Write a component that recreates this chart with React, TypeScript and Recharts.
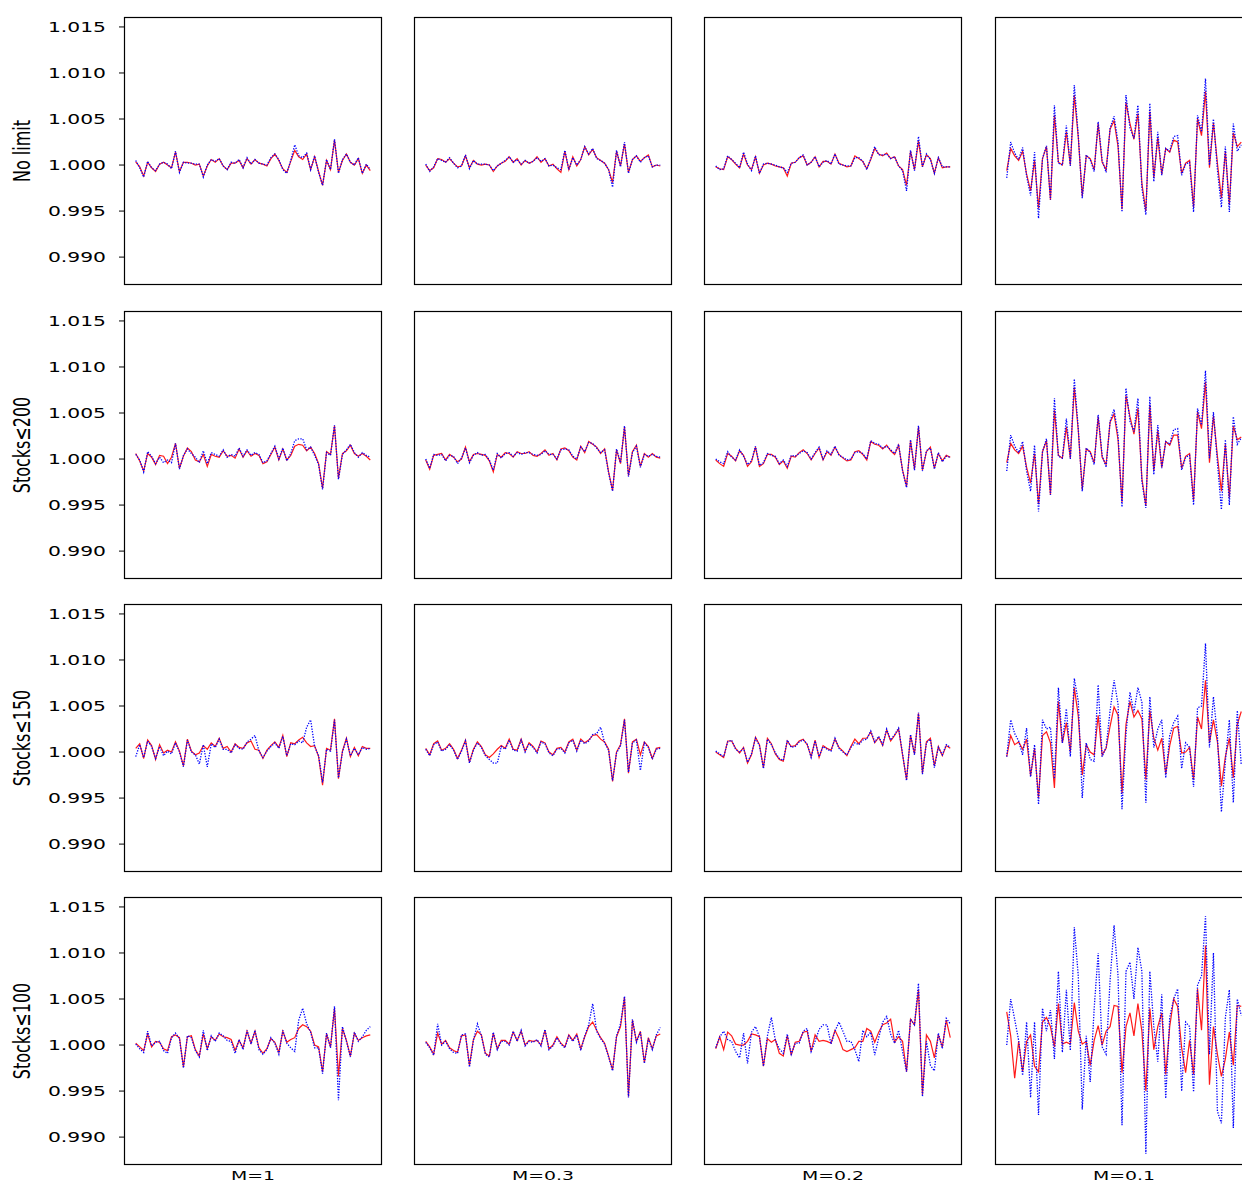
import React from 'react';
import { LineChart, Line, XAxis, YAxis } from 'recharts';

// every series holds offsets from 1.000 in thousandths (0.5 means 1.0005), 60 steps each
const rowLabels = ['No limit', 'Stocks≤200', 'Stocks≤150', 'Stocks≤100'];
const colLabels = ['M=1', 'M=0.3', 'M=0.2', 'M=0.1'];
const yTicks = [0.99, 0.995, 1.0, 1.005, 1.01, 1.015];

const r1c1Red = [0.35,-0.2,-1.2,0.3,-0.3,-0.7,0.1,0.3,0,-0.3, 1.4,-0.7,0.3,0.3,0.2,0,0.1,-1.2,-0.1,0.6, 0.3,0.7,-0.1,-0.5,0.2,0.2,0.5,-0.3,0.7,0.1, 0.6,0.2,0.1,-0.1,0.7,1.2,0.5,-0.4,-0.8,0.4, 1.6,0.9,0.6,1.2,-0.5,0.9,-0.7,-2.2,0.5,-0.5, 2.7,-0.8,0.5,1.2,0.3,0,0.7,-0.9,0,-0.6];
const r1c1Blue = [0.5,-0.3,-1.3,0.4,-0.3,-0.6,0.1,0.3,0.1,-0.4, 1.5,-0.8,0.3,0.2,0.2,0.1,0.1,-1.3,0,0.6, 0.4,0.7,-0.1,-0.5,0.3,0.2,0.6,-0.3,0.8,0.1, 0.6,0.2,0.1,0,0.8,1.2,0.6,-0.5,-0.9,0.5, 2.2,1.0,0.8,1.3,-0.5,1.0,-0.8,-2.2,0.6,-0.5, 2.8,-0.9,0.6,1.2,0.3,0,0.8,-0.9,0.1,-0.5];
const r1c2Red = [0,-0.6,-0.3,0.7,0.6,0.3,0.7,0.2,-0.2,-0.1, 1.0,-0.3,0.5,0.1,0,0.1,0,-0.7,-0.1,0.2, 0.4,0.9,0.3,0.7,0,0.5,0.2,0.4,0.9,0.3, 0.7,-0.1,0.1,-0.4,-0.8,1.5,-0.5,0.9,-0.1,0.6, 2.0,1.1,1.7,0.8,0.5,0.2,-0.5,-1.9,1.5,-0.1, 2.3,-0.8,0.6,1.0,0.4,0.8,1.1,-0.2,0,-0.1];
const r1c2Blue = [0.1,-0.7,-0.2,0.7,0.5,0.3,0.8,0.2,-0.3,-0.1, 1.1,-0.4,0.5,0.1,0.1,0.1,0,-0.6,-0.1,0.2, 0.5,0.9,0.3,0.6,0.1,0.5,0.2,0.4,0.8,0.4, 0.7,-0.1,0,-0.3,-0.5,1.6,-0.5,0.8,0,0.6, 2.0,1.2,1.8,0.7,0.5,0.2,-0.5,-2.4,1.6,-0.2, 2.5,-0.9,0.6,1.0,0.3,0.8,1.0,-0.2,0,0];
const r1c3Red = [-0.2,-0.4,-0.5,0.9,0.6,0.1,-0.3,1.2,0,-0.5, 0.9,-0.9,0,0.2,0.1,-0.1,-0.2,-0.3,-1.2,0.2, 0.3,0.8,1.0,0,0.3,0.9,-0.2,0.4,0.4,0.1, 1.2,0.2,0,-0.2,-0.1,1.0,0.7,0.4,-0.4,0.6, 1.8,1.2,1.0,1.3,0.7,0.9,-0.1,-0.5,-2.2,1.5, -0.5,2.6,-0.2,1.1,0.7,-0.9,0.8,-0.3,-0.2,-0.2];
const r1c3Blue = [-0.1,-0.5,-0.4,1.0,0.6,0.2,-0.3,1.4,0.1,-0.6, 1.0,-0.9,0.1,0.2,0.1,0,-0.2,-0.3,-0.8,0.2, 0.3,0.8,1.1,0,0.3,0.9,-0.2,0.3,0.5,0.1, 1.2,0.1,0,-0.1,-0.1,0.8,0.8,0.4,-0.5,0.7, 2.0,1.1,1.1,1.2,0.7,0.9,-0.1,-0.6,-2.8,1.6, -0.6,3.1,-0.2,1.2,0.6,-0.9,0.8,-0.2,-0.2,-0.2];
const r1c4Red = [-0.6,1.8,1.0,0.5,1.5,-1.0,-2.8,0.5,-4.7,0.7, 2.0,-3.8,5.4,0.3,0,3.6,0,7.6,3.0,-3.4, 1.0,0.7,-0.5,4.5,0.3,-0.5,3.9,4.8,2.0,-4.8, 6.8,4.5,2.8,5.6,-2.0,-5.0,5.8,-1.4,3.0,-1.0, 1.8,1.4,2.7,2.5,-0.9,0.2,0.5,-4.6,5.0,3.2, 8.0,-0.3,4.6,0.2,-3.6,1.5,-4.3,3.5,2.0,2.5];
const r1c4Blue = [-1.4,2.5,1.3,0.6,1.9,-1.2,-3.3,1.4,-5.8,0.7, 2.1,-3.8,6.5,0.2,0,4.3,-0.1,8.7,3.2,-3.6, 1.1,0.6,-0.7,4.7,0.5,-0.8,4.0,5.3,2.5,-5.1, 7.6,4.0,2.9,6.5,-2.5,-5.4,6.7,-1.8,3.6,-1.1, 1.8,1.5,3.1,3.2,-1.1,0.1,0.3,-5.1,5.4,3.6, 9.4,0,5.0,-0.5,-4.6,2.0,-5.1,4.5,1.5,2.2];

const r2c1Red = [0.6,-0.2,-1.3,0.6,0.2,-0.6,0.4,0.3,-0.5,0.2, 1.7,-1.0,0.3,1.2,0.8,-0.1,-0.3,0.5,-0.8,0.5, 0.3,0.2,0.9,0.3,0.4,0.1,1.1,0.2,0.9,0.3, 0.6,0.4,-0.5,-0.3,0.5,1.3,-0.1,1.1,-0.1,0.4, 1.4,1.6,1.5,0.9,1.3,0.6,-0.5,-3.2,0.8,0.5, 3.6,-2.1,0.6,0.9,1.5,0.6,0.3,0.6,0.3,-0.1];
const r2c1Blue = [0.5,-0.1,-1.4,0.8,0.3,-0.5,0.2,-0.4,-0.1,-0.4, 1.7,-1.1,0.4,1.1,0.6,0.2,-0.4,0.9,-0.5,0.7, 0.5,0.3,1.0,0.2,0.5,0.3,1.2,0.3,1.0,0.4, 0.7,0.5,-0.4,-0.2,0.6,1.4,0,1.2,-0.2,0.6, 2.0,2.2,2.2,1.0,1.3,0.4,-0.6,-3.3,0.7,0.4, 3.7,-2.2,0.5,1.0,1.6,0.7,0.2,0.7,0.4,0.2];
const r2c2Red = [-0.1,-1.1,0.4,0.5,0.6,-0.1,0.5,0.2,-0.3,0, 1.3,-0.3,0.5,0.6,0.5,0.4,-0.2,-1.4,0.5,0.2, 0.7,0.6,0.2,0.8,0.6,0.6,0.8,0.4,0.3,0.6, 1.0,0.4,0.6,-0.1,1.1,1.2,0.9,0.2,-0.1,1.4, 0.7,1.9,1.6,1.3,0.6,1.1,-1.4,-3.4,1.0,-0.5, 3.5,-1.8,0.8,1.5,-0.8,0.6,0.2,0.6,0.2,0.1];
const r2c2Blue = [0,-1.0,0.5,0.4,0.5,-0.2,0.4,0.3,-0.5,0.1, 1.2,-0.4,0.4,0.7,0.4,0.5,-0.1,-1.2,0.6,0.1, 0.6,0.7,0.3,0.7,0.5,0.7,0.7,0.5,0.4,0.5, 0.9,0.5,0.5,0,1.0,1.1,1.0,0.3,0,1.3, 0.8,1.8,1.7,1.2,0.7,1.0,-1.5,-3.5,1.1,-0.4, 3.6,-1.9,0.7,1.4,-0.9,0.5,0.3,0.5,0.3,0.2];
const r2c3Red = [-0.1,-0.5,-0.8,0.6,0.3,-0.2,0.9,0.4,-0.8,-0.3, 1.3,-0.8,-0.5,0.5,0.5,0.2,-0.6,-0.2,-1.0,0.3, 0.2,0.7,1.0,0.6,-0.1,0.6,1.2,-0.1,0.8,0.4, 1.3,0.5,0.1,-0.2,-0.1,0.8,0.9,0.5,-0.1,1.9, 1.6,1.5,1.1,1.5,0.9,0.5,1.5,-1.2,-3.0,2.0, -1.1,3.5,-1.2,0.8,1.3,-1.0,0.6,-0.2,0.4,0.2];
const r2c3Blue = [0,-0.3,-0.5,0.8,0.2,-0.1,1.0,0.3,-0.6,-0.2, 1.4,-0.7,-0.4,0.6,0.4,0.3,-0.5,-0.1,-0.8,0.4, 0.3,0.6,0.9,0.7,0,0.7,1.3,0,0.9,0.5, 1.4,0.4,0.2,-0.1,0,0.7,0.8,0.6,0,2.0, 1.7,1.6,1.2,1.4,1.0,0.6,1.6,-1.3,-3.1,2.1, -1.2,3.6,-1.3,0.9,1.2,-1.1,0.7,-0.3,0.3,0.2];
const r2c4Red = [-0.4,1.7,1.0,0.6,1.4,-0.9,-2.6,0.6,-4.9,0.8, 2.0,-3.9,5.3,0.4,0.1,3.5,0.1,7.8,3.1,-3.3, 1.1,0.8,-0.4,4.6,0.2,-0.6,4.0,4.9,2.1,-4.7, 6.9,4.6,2.7,5.5,-2.1,-5.1,5.9,-1.3,3.1,-0.9, 1.9,1.5,2.6,2.6,-1.0,0.3,0.6,-4.5,5.1,3.3, 8.4,-0.4,4.7,0.3,-3.5,1.6,-4.2,3.6,2.1,2.4];
const r2c4Blue = [-1.3,2.6,1.4,0.7,1.9,-1.3,-3.5,1.5,-5.7,0.8, 2.2,-3.9,6.6,0.3,0.1,4.4,0,8.7,3.3,-3.5, 1.2,0.7,-0.6,4.8,0.4,-0.9,4.1,5.4,2.6,-5.2, 7.7,4.1,3.0,6.6,-2.4,-5.3,6.8,-1.7,3.7,-1.0, 1.9,1.6,3.2,3.3,-1.2,0.2,0.4,-5.0,5.5,3.7, 9.6,0.1,5.1,-0.4,-5.5,2.1,-5.0,4.6,1.6,2.3];

const r3c1Red = [0.4,0.9,-0.7,1.3,0.7,-0.8,0.8,-0.1,0.2,0, 1.1,0.1,-1.5,1.4,0.1,-0.3,-0.1,0.7,0.3,1.0, 0.6,1.5,0.4,0.6,0,0.9,0.5,0.4,1.0,1.2, 0.3,0.2,-0.7,0.2,0.7,1.1,0.5,1.8,-0.5,1.0, 0.9,1.3,1.6,1.0,0.6,0.7,-0.5,-3.6,0.4,0.2, 3.6,-2.9,0.1,1.5,-0.5,0.5,-0.4,0.6,0.4,0.4];
const r3c1Blue = [-0.5,0.8,-0.6,1.2,0.6,-0.7,0.6,-0.4,0.1,-0.2, 1.0,0,-1.6,1.3,0,-0.3,-1.3,0.8,-1.6,0.9, 0.5,1.4,0.3,0.3,-0.1,0.8,0.4,0.3,1.1,1.4, 1.8,0.1,-0.6,0.1,0.6,1.0,0.4,1.7,-0.4,0.9, 0.8,1.2,1.0,2.7,3.5,0.6,-0.4,-3.3,0.3,0.1, 3.5,-2.8,0,1.4,-0.4,0.4,-0.3,0.5,0.3,0.4];
const r3c2Red = [0.4,-0.3,0.9,1.2,0.2,0.4,0.9,0.3,-0.7,0.2, 1.3,-1.1,0.3,1.1,0.6,-0.3,-0.6,-0.2,0.3,0.7, 0.4,1.4,0.3,0.2,1.4,0.1,1.0,0.6,0,1.2, 1.0,0,-0.3,0.4,0.5,0,1.1,1.4,0.2,1.4, 1.0,1.3,1.8,1.9,1.4,1.1,0.3,-3.2,0,0.8, 3.6,-2.3,1.1,1.4,-0.3,1.1,0.6,-0.7,0.4,0.5];
const r3c2Blue = [0.3,-0.4,0.8,1.1,0.1,0.3,0.8,0.2,-0.8,0.1, 1.2,-1.2,0.2,1.0,0.5,-0.4,-0.8,-1.2,-1.2,0.6, 0.3,1.3,0.2,0.1,1.3,0,0.9,0.5,-0.1,1.1, 0.9,-0.1,-0.4,0.3,0.4,-0.1,1.0,1.3,0.1,1.3, 0.9,1.2,1.9,2.0,2.7,1.0,0.2,-3.1,-0.1,0.7, 3.5,-2.2,1.0,1.3,-2.0,1.0,0.5,-0.8,0.3,0.4];
const r3c3Red = [0,-0.3,-0.6,1.2,1.2,0.4,-0.1,0.5,-1.2,-0.3, 1.6,0.8,-1.7,1.5,0.9,-0.2,-0.8,-1.0,1.2,0.6, 0.7,1.2,1.4,0.8,-0.5,1.3,-0.6,0.7,0.4,0.2, 1.4,0.5,0.1,-0.4,0.6,1.4,0.9,1.5,1.5,2.2, 1.0,1.6,0.7,2.4,1.2,1.8,2.5,-0.3,-3.0,1.8, -0.2,4.2,-2.3,1.1,1.5,-1.5,0.6,-0.4,0.7,0.4];
const r3c3Blue = [0.1,-0.2,-0.5,1.1,1.3,0.3,0,0.4,-1.1,-0.2, 1.5,0.7,-1.8,1.4,0.8,-0.1,-0.7,-0.9,1.3,0.5, 0.6,1.1,1.3,0.9,-0.6,1.2,-0.5,0.6,0.3,0.1, 1.5,0.4,0,-0.3,0.5,1.0,0.8,1.3,1.4,2.3, 1.1,1.7,0.8,2.5,1.3,1.9,2.6,-0.2,-3.1,1.9, -0.3,4.3,-2.4,1.0,1.4,-1.7,0.5,-0.3,0.8,0.5];
const r3c4Red = [-0.5,1.8,0.8,1.1,0.3,1.4,-2.6,0.4,-5.0,1.8, 2.2,1.0,-3.9,5.5,1.0,3.2,0,7.0,3.9,-2.5, 0.8,0,-0.3,4.0,-0.3,0.4,2.8,4.9,4.0,-4.5, 3.0,5.5,3.8,4.5,3.6,-3.0,4.5,1.5,0.2,1.5, -2.4,0.7,2.6,2.8,-0.1,0,0.5,-3.0,3.8,2.5, 7.8,1.0,3.5,1.1,-3.7,-0.5,1.5,-2.8,3.0,4.4];
const r3c4Blue = [-0.5,3.5,2.0,1.2,-0.3,2.6,-2.7,0.8,-5.7,3.5, 2.5,2.7,-2.9,7.0,1.0,4.7,-0.5,8.0,5.5,-5.0, 1.0,-0.8,-1.0,7.3,-0.5,0.5,4.5,7.8,5.2,-6.2, 2.0,6.5,4.3,7.0,5.4,-5.5,6.0,0.5,2.5,3.5, -2.8,1.8,3.2,3.9,-1.8,1.0,0.5,-3.8,4.8,5.0, 11.8,0.5,6.0,1.7,-6.5,-1.0,3.5,-5.5,4.5,-1.4];

const r4c1Red = [0.2,-0.2,-0.6,1.2,-0.2,0.4,0.3,-0.4,-0.6,0.9, 1.1,0.8,-2.4,0.9,1.0,-0.5,-1.2,1.2,-0.4,0.9, 0.5,1.2,0.9,0.8,0.6,-0.6,0.5,-0.3,1.5,0.2, 1.5,-0.3,-0.9,-0.4,0.7,0.3,-0.8,1.5,0.3,0.6, 0.8,1.8,2.2,2.0,1.5,0,-0.2,-2.9,1.2,-0.2, 4.0,-3.4,1.8,0.5,-1.2,1.3,0.5,0.8,1.0,1.1];
const r4c1Blue = [0.1,-0.4,-0.8,1.5,-0.1,0.3,0.4,-0.6,-0.9,0.8, 1.3,0.7,-2.5,1.0,0.8,-0.6,-1.3,1.6,-0.6,1.0, 0.4,1.3,1.0,0.5,0.4,-0.9,0.6,-0.5,1.6,0.1, 1.6,-0.5,-1.0,-0.5,0.8,0.2,-1.0,1.6,0.2,-0.3, -0.7,2.7,4.0,2.3,1.4,-0.3,-0.3,-3.1,1.3,-0.3, 4.2,-6.0,2.0,0.4,-1.3,1.4,0.4,0.9,1.6,2.0];
const r4c2Red = [0.4,-0.2,-1.0,1.3,0.1,0.5,-0.3,-0.6,-0.8,1.0, 1.1,-2.2,0.6,1.5,1.1,-0.9,-1.2,1.3,-0.4,0.5, 0.5,0.1,1.4,0.5,1.5,0,0.5,0.4,0.5,0, 1.6,-0.4,0,0.9,0.2,-0.2,1.1,0.5,1.2,-0.4, 0.9,2.0,2.5,1.6,0.8,0.2,-1.2,-2.7,0.9,2.0, 5.2,-5.6,2.7,0.4,1.5,-1.9,0.8,-0.4,1.0,1.2];
const r4c2Blue = [0.3,-0.3,-1.1,2.3,0,0.4,-0.4,-0.8,-0.9,1.1, 1.2,-2.4,0.5,2.3,1.0,-1.0,-1.3,1.4,-0.5,0.4, 0.4,0,1.5,0.4,1.6,-0.1,0.4,0.3,0.6,-0.1, 1.7,-0.5,-0.1,0.8,0.1,-0.3,1.0,0.4,1.1,-0.6, 1.0,2.2,4.5,1.5,0.7,0.1,-1.3,-2.8,1.0,2.3, 5.3,-5.7,2.8,0.3,1.4,-2.0,0.7,-0.5,1.1,1.9];
const r4c3Red = [-0.4,0.9,-0.5,1.4,1.0,0.1,0,0,0.4,1.2, 1.1,0.9,-2.3,0.7,0.3,0.6,-0.9,-1.2,1.0,-1.1, 0.3,0.4,1.4,1.5,-0.7,1.1,0.4,0.5,0.4,0.2, 1.6,0.7,-0.5,-0.7,-0.5,-0.3,0.4,0.4,1.8,1.5, 0.3,1.4,2.2,2.4,2.8,0.3,0.9,0.4,-2.9,2.8, 2.2,6.0,-5.4,1.1,0.4,-1.4,1.1,-0.2,2.7,0.8];
const r4c3Blue = [-0.3,0.9,1.5,0.6,0.4,-0.7,-1.4,1.3,-2.0,1.4, 2.0,0.9,-2.3,1.0,3.0,0.5,-0.4,-0.9,1.2,-1.0, 0.2,0.2,1.5,1.8,-0.7,0.4,1.7,2.2,2.2,0.1, 1.5,2.5,1.5,0.4,0.4,-0.5,-1.8,1.6,0.9,1.4, -1.1,0.8,2.5,3.1,1.2,0.2,1.6,-0.7,-2.9,2.8, 2.2,6.7,-5.6,0.4,-2.2,-2.8,1.3,-0.4,2.9,2.3];
const r4c4Red = [3.6,1.0,-3.6,0.4,-2.9,0.4,1.1,-2.3,-2.9,2.5, 3.0,2.0,-0.2,4.5,0.1,0.3,0.1,4.6,1.5,0.1, 0.4,-2.2,0.5,2.1,0,1.5,2.0,4.3,4.2,-3.0, 2.0,3.5,1.0,4.5,1.5,-5.0,4.0,-0.5,2.0,3.5, -3.2,2.0,5.0,4.2,-0.3,-3.0,0.5,-3.2,6.1,1.6, 10.8,-4.3,2.0,-1.0,-3.4,-1.5,1.4,-2.2,4.3,4.2];
const r4c4Blue = [0,5.0,2.8,0.5,-3.3,2.5,-5.7,2.5,-7.6,4.0, 1.5,3.8,-1.5,8.0,-0.8,6.0,-0.6,12.8,7.5,-7.0, 1.0,-4.0,4.0,10.0,-0.2,-1.0,7.0,13.0,7.5,-8.7, 8.0,9.0,5.0,10.6,8.0,-11.8,8.0,2.0,-1.8,5.5, -5.8,3.0,5.0,6.1,-5.0,2.5,2.0,-5.1,6.5,7.5, 14.0,-1.0,10.0,-7.2,-8.5,3.0,6.0,-9.0,5.0,3.2];

const grid = [
  [[r1c1Red, r1c1Blue], [r1c2Red, r1c2Blue], [r1c3Red, r1c3Blue], [r1c4Red, r1c4Blue]],
  [[r2c1Red, r2c1Blue], [r2c2Red, r2c2Blue], [r2c3Red, r2c3Blue], [r2c4Red, r2c4Blue]],
  [[r3c1Red, r3c1Blue], [r3c2Red, r3c2Blue], [r3c3Red, r3c3Blue], [r3c4Red, r3c4Blue]],
  [[r4c1Red, r4c1Blue], [r4c2Red, r4c2Blue], [r4c3Red, r4c3Blue], [r4c4Red, r4c4Blue]],
];

const colX = [124, 414, 704, 995];
const rowY = [17, 311, 604, 897];
const PW = 258;
const PH = 268;
const AXW = 90;
const Y_DOMAIN: [number, number] = [0.98697, 1.01608];
const FONT = '"DejaVu Sans", sans-serif';
const STRETCH = 1.45; // the figure is stretched sideways

const YTick = (props: any) => {
  const { x, y, payload } = props;
  return (
    <text
      transform={`translate(${x},${y}) scale(${STRETCH},1)`}
      textAnchor="end"
      dominantBaseline="central"
      fontFamily={FONT}
      fontSize={14}
      fill="#000"
    >
      {payload.value.toFixed(3)}
    </text>
  );
};

const Panel = ({ red, blue, row, col }: { red: number[]; blue: number[]; row: number; col: number }) => {
  const n = red.length - 1;
  const data = red.map((d, i) => ({ t: i, red: 1 + d / 1000, blue: 1 + blue[i] / 1000 }));
  const first = col === 0;
  const extra = first ? AXW : 0;
  return (
    <div style={{ position: 'absolute', left: colX[col] - extra, top: rowY[row] }}>
      <LineChart width={PW + extra} height={PH} data={data} margin={{ top: 0, right: 0, bottom: 0, left: 0 }}>
        <XAxis dataKey="t" type="number" domain={[-0.05 * n, 1.05 * n]} hide allowDataOverflow />
        <YAxis
          type="number"
          domain={Y_DOMAIN}
          ticks={yTicks}
          interval={0}
          allowDataOverflow
          hide={!first}
          width={AXW}
          axisLine={false}
          tickLine={{ stroke: '#000' }}
          tickSize={5}
          tickMargin={13}
          tick={YTick}
        />
        <Line type="linear" dataKey="red" stroke="#ff1a1a" strokeWidth={1.2} dot={false} isAnimationActive={false} />
        <Line
          type="linear"
          dataKey="blue"
          stroke="#0000ff"
          strokeWidth={1.3}
          strokeDasharray="1.3 1.4"
          dot={false}
          isAnimationActive={false}
        />
      </LineChart>
    </div>
  );
};

export default function App() {
  return (
    <div style={{ position: 'absolute', left: 0, top: 0, width: 1242, height: 1185, overflow: 'hidden', background: '#fff' }}>
      {grid.map((cells, row) =>
        cells.map(([red, blue], col) => <Panel key={`${row}-${col}`} red={red} blue={blue} row={row} col={col} />)
      )}
      <svg width={1242} height={1185} style={{ position: 'absolute', left: 0, top: 0, pointerEvents: 'none' }}>
        {rowY.map((y) =>
          colX.map((x) => (
            <rect key={`${x}-${y}`} x={x + 0.5} y={y + 0.5} width={PW - 1} height={PH - 1} fill="none" stroke="#000" strokeWidth={1.2} />
          ))
        )}
        {rowLabels.map((label, i) => (
          <text
            key={label}
            transform={`translate(22,${rowY[i] + PH / 2}) scale(${STRETCH},1) rotate(-90)`}
            textAnchor="middle"
            dominantBaseline="central"
            fontFamily={FONT}
            fontSize={16}
            fill="#000"
          >
            {label}
          </text>
        ))}
        {colLabels.map((label, i) => (
          <text
            key={label}
            transform={`translate(${colX[i] + PW / 2},1176) scale(${STRETCH},1)`}
            textAnchor="middle"
            dominantBaseline="central"
            fontFamily={FONT}
            fontSize={13}
            fill="#000"
          >
            {label}
          </text>
        ))}
      </svg>
    </div>
  );
}
